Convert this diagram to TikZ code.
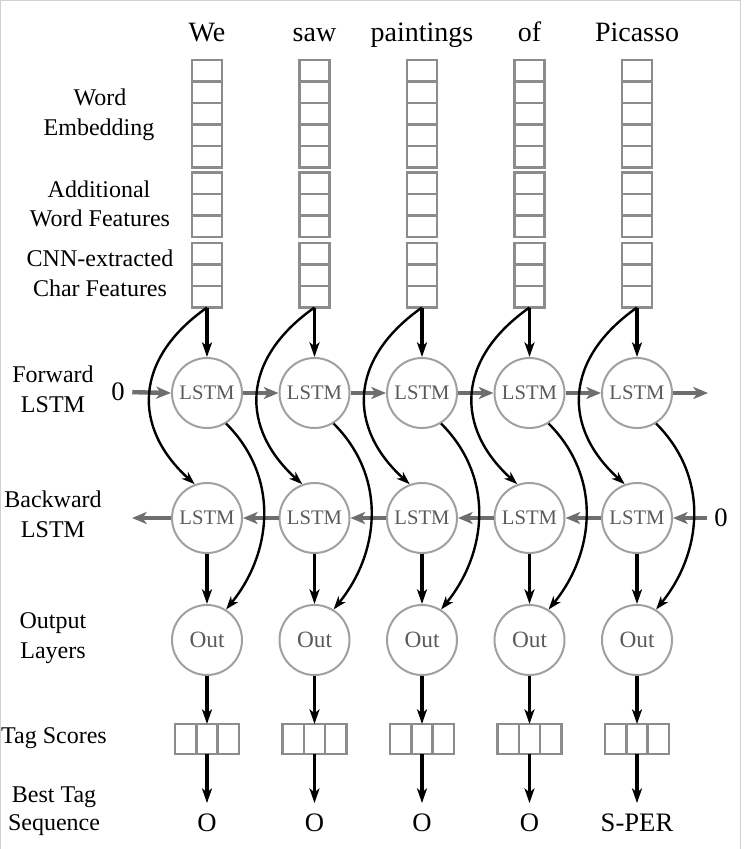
\documentclass[tikz,border=0pt]{standalone}
\usepackage{fontspec}
\setmainfont{Liberation Serif}
\usetikzlibrary{arrows.meta,calc}
\definecolor{boxgray}{HTML}{8C8C8C}
\definecolor{cellgray}{HTML}{A0A0A0}
\definecolor{flowgray}{HTML}{6E6E6E}
\definecolor{cellfont}{HTML}{5A5A5A}
\begin{document}
\begin{tikzpicture}[x=0.75pt,y=-0.75pt,
  lbl/.style={font=\fontsize{18}{21}\selectfont, anchor=base, inner sep=0pt},
  word/.style={font=\fontsize{21}{24}\selectfont, anchor=base, inner sep=0pt},
  tagout/.style={font=\fontsize{20}{24}\selectfont, anchor=base, inner sep=0pt},
  zero/.style={font=\fontsize{20}{24}\selectfont, inner sep=0pt},
  cell/.style={circle, draw=cellgray, line width=1.5pt, minimum size=52.5pt,
    inner sep=0pt, text=cellfont, font=\fontsize{15.5}{18}\selectfont},
  outcell/.style={cell, font=\fontsize{17.5}{20}\selectfont},
  stack/.style={draw=boxgray, line width=1.9pt, minimum width=22.5pt,
    inner sep=0pt, outer sep=0pt},
  tagbox/.style={draw=boxgray, line width=1.9pt, minimum width=48pt,
    minimum height=22.5pt, inner sep=0pt, outer sep=0pt},
  divider/.style={draw=boxgray, line width=1.9pt},
  flow/.style={draw=flowgray, line width=3.3pt,
    -{Stealth[length=11pt,width=9pt,inset=3pt]}},
  feed/.style={draw=black, line width=2.4pt,
    -{Stealth[length=11pt,width=7.5pt,inset=3pt]}},
  skip/.style={draw=black, line width=1.8pt,
    -{Stealth[length=10pt,width=7pt,inset=3pt]}},
]
\useasboundingbox (0,0) rectangle (744,849);
% light page frame
\draw[black!18, line width=0.75pt] (0.5,849) -- (0.5,0.5) -- (740,0.5) -- (740,849);

% row labels
\node[lbl] (lwa) at (100,105) {Word};
\node[lbl] (lwb) at (99,135) {Embedding};
\node[lbl] (laa) at (99,197) {Additional};
\node[lbl] (lab) at (100,226) {Word Features};
\node[lbl] (lca) at (100,266) {CNN-extracted};
\node[lbl] (lcb) at (100,296) {Char Features};
\node[lbl] (lfa) at (53,382) {Forward};
\node[lbl] (lfb) at (53,412) {LSTM};
\node[lbl] (lba) at (53,507) {Backward};
\node[lbl] (lbb) at (53,537) {LSTM};
\node[lbl] (loa) at (53,628) {Output};
\node[lbl] (lob) at (53,658) {Layers};
\node[lbl] (lts) at (54,743) {Tag Scores};
\node[lbl] (lsa) at (54,802) {Best Tag};
\node[lbl] (lsb) at (54,830) {Sequence};

% columns: word, feature stacks, LSTM cells, output layer, tag scores, tag
\foreach \i/\w/\t in {0/We/O,1/saw/O,2/paintings/O,3/of/O,4/Picasso/S-PER} {
  \pgfmathsetmacro\cx{207+107.5*\i}
  \node[word] (w\i) at (\cx,42) {\w};
  \node[stack, minimum height=80.6pt] (E\i) at (\cx,113.75) {};
  \node[stack, minimum height=48.4pt] (A\i) at (\cx,204.75) {};
  \node[stack, minimum height=48.4pt] (C\i) at (\cx,275.25) {};
  \foreach \k in {1,...,4}
    \draw[divider] (\cx-15,60+21.5*\k) -- (\cx+15,60+21.5*\k);
  \foreach \k in {1,2} {
    \draw[divider] (\cx-15,172.5+21.5*\k) -- (\cx+15,172.5+21.5*\k);
    \draw[divider] (\cx-15,243+21.5*\k) -- (\cx+15,243+21.5*\k);
  }
  \node[cell] (F\i) at (\cx,393) {LSTM};
  \node[cell] (B\i) at (\cx,518) {LSTM};
  \node[outcell] (Y\i) at (\cx,640) {Out};
  \node[tagbox] (S\i) at (\cx,739) {};
  \draw[divider] (\cx-10.67,724) -- (\cx-10.67,754);
  \draw[divider] (\cx+10.67,724) -- (\cx+10.67,754);
  \node[tagout] (t\i) at (\cx,831) {\t};
}

% initial states and recurrent connections
\node[zero] (z0) at (118,392) {0};
\node[zero] (z1) at (721,518) {0};
\coordinate (fend) at (708,393);
\coordinate (bend) at (132,518);
\draw[flow, shorten <=5.5pt] (z0.east) -- (F0.west);
\foreach \i/\j in {0/1,1/2,2/3,3/4} {
  \draw[flow] (F\i.east) -- (F\j.west);
  \draw[flow] (B\j.west) -- (B\i.east);
}
\draw[flow] (F4.east) -- (fend);
\draw[flow, shorten <=5pt] (z1.west) -- (B4.east);
\draw[flow] (B0.west) -- (bend);

% feed-forward and skip connections
\foreach \i in {0,...,4} {
  \draw[feed] (C\i.south) -- (F\i.north);
  \draw[feed] (B\i.south) -- (Y\i.north);
  \draw[feed] (Y\i.south) -- (S\i.north);
  \draw[feed, shorten >=7.5pt] (S\i.south) -- (t\i.north);
  \draw[skip] (C\i.south) .. controls +(-74,52) and +(-62,-56) .. (B\i.110);
  \draw[skip] (F\i.-58) .. controls +(55,55) and +(45,-55) .. (Y\i.58);
}
\end{tikzpicture}
\end{document}
